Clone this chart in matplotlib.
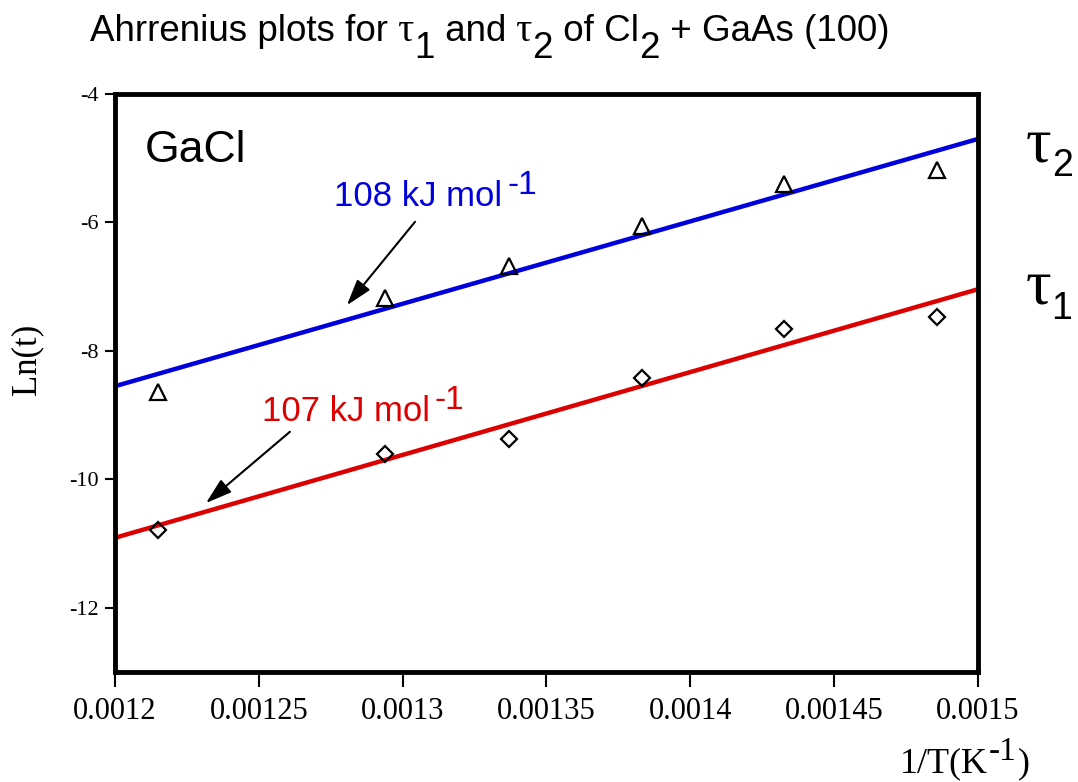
import numpy as np
import matplotlib
matplotlib.use("Agg")
import matplotlib.pyplot as plt

# 1/T values (K^-1) and ln(t) for the two time constants
invT = [0.0012150, 0.0012937, 0.0013369, 0.0013831, 0.0014327, 0.0014859]
ln_tau2 = [-8.64, -7.18, -6.68, -6.06, -5.40, -5.18]
ln_tau1 = [-10.79, -9.61, -9.37, -8.42, -7.66, -7.47]

# fitted lines (end points over the axis range)
fit_x = [0.0012, 0.0015]
fit_tau2 = [-8.55, -4.70]
fit_tau1 = [-10.91, -7.04]

xticks = [0.0012, 0.00125, 0.0013, 0.00135, 0.0014, 0.00145, 0.0015]
xticklabels = ["0.0012", "0.00125", "0.0013", "0.00135", "0.0014", "0.00145", "0.0015"]
yticks = [-12, -10, -8, -6, -4]

W, H = 1078, 782
SANS = 'Liberation Sans'
SERIF = 'Liberation Serif'

fig = plt.figure(figsize=(W / 100, H / 100), dpi=100)
ax = fig.add_axes([0.1067, 0.1407, 0.8005, 0.7391])


def put_text(x, y, parts, color='black'):
    # x, y in pixels from the top-left corner, y is the baseline
    # each part: (text, size, family, raise in px, gap before in px)
    r = fig.canvas.get_renderer()
    for s, size, fam, dy, gap in parts:
        x += gap
        t = fig.text(x / W, 1 - (y - dy) / H, s, fontsize=size, family=fam,
                     color=color, va='baseline')
        x += t.get_window_extent(r).width


ax.plot(fit_x, fit_tau2, color='#0000dd', lw=3.2, solid_capstyle='butt')
ax.plot(fit_x, fit_tau1, color='#dd0000', lw=3.2, solid_capstyle='butt')
ax.plot(invT, ln_tau2, '^', ms=11, mfc='none', mec='black', mew=1.6)
ax.plot(invT, ln_tau1, 'D', ms=8.5, mfc='none', mec='black', mew=1.6)

ax.set_xlim(0.0012, 0.0015)
ax.set_ylim(-13, -4)
ax.set_xticks(xticks)
ax.set_xticklabels(xticklabels, family=SERIF, fontsize=22)
ax.set_yticks(yticks)
ax.set_yticklabels([str(v) for v in yticks], family=SERIF, fontsize=16)
ax.tick_params(direction='out', length=7, width=1.5, pad=5)
ax.tick_params(axis='x', length=11, pad=7)
for s in ax.spines.values():
    s.set_linewidth(3.5)

arrow = dict(arrowstyle='-|>,head_length=0.8,head_width=0.25', color='black',
             lw=1.5, mutation_scale=20, shrinkA=0, shrinkB=0)
ax.annotate("", xy=(0.0012806, -7.29), xytext=(0.0013043, -5.99), arrowprops=arrow)
ax.annotate("", xy=(0.0012316, -10.37), xytext=(0.0012608, -9.26), arrowprops=arrow)

# labels inside the plot
put_text(145, 162, [("GaCl", 32, SANS, 0, 0)])
put_text(334, 206, [("108 kJ mol", 25, SANS, 0, 0), ("-1", 24, SANS, 12, 5)], color='#0000dd')
put_text(262, 421, [("107 kJ mol", 25, SANS, 0, 0), ("-1", 24, SANS, 12, 5)], color='#dd0000')

# tau labels on the right
put_text(1026, 161, [("τ", 46, SERIF, 0, 0), ("2", 27, SANS, -15, 0)])
put_text(1026, 304, [("τ", 46, SERIF, 0, 0), ("1", 27, SANS, -15, 0)])

# title
put_text(90, 41, [("Ahrrenius plots for", 26.5, SANS, 0, 0), (" τ", 29, SERIF, 0, 0),
                  ("1", 26.5, SANS, -17, 0), (" and", 26.5, SANS, 0, 0), (" τ", 29, SERIF, 0, 0),
                  ("2", 26.5, SANS, -17, 0), (" of Cl", 26.5, SANS, 0, 0), ("2", 26.5, SANS, -17, 0),
                  (" + GaAs (100)", 26.5, SANS, 0, 0)])

# axis titles
fig.text(27 / W, 1 - 359 / H, "Ln(t)", family=SERIF, fontsize=25,
         rotation=90, ha='center', va='center')
put_text(900, 772, [("1/T(K", 26, SERIF, 0, 0), ("-1", 24, SERIF, 12, 1), (")", 26, SERIF, 0, 1)])

fig.savefig("out.png", dpi=100)
